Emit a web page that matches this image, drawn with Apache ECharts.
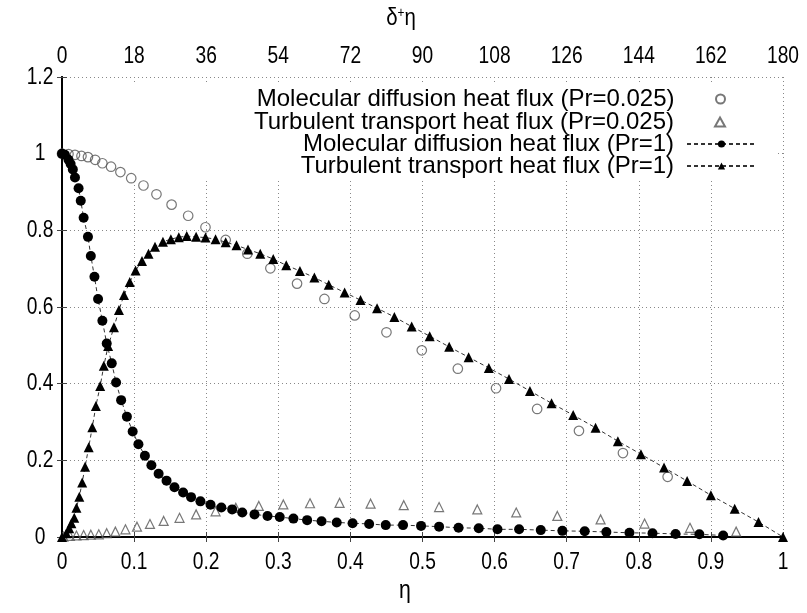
<!DOCTYPE html>
<html><head><meta charset="utf-8">
<script src="https://cdn.jsdelivr.net/npm/echarts@6/dist/echarts.min.js"></script>
<style>html,body{margin:0;padding:0;background:#fff}#c{width:807px;height:613px}</style>
</head><body><div id="c"></div>
<script>
// Molecular diffusion heat flux (Pr=0.025) - open circles
const molLowEta = [0, 0.009, 0.018, 0.027, 0.036, 0.046, 0.056, 0.068, 0.081, 0.096, 0.113, 0.131, 0.152, 0.175, 0.199, 0.227, 0.257, 0.289, 0.326, 0.364, 0.406, 0.450, 0.499, 0.549, 0.602, 0.659, 0.717, 0.778, 0.840];
const molLowVal = [1.0, 0.999, 0.997, 0.994, 0.991, 0.984, 0.975, 0.966, 0.952, 0.936, 0.917, 0.894, 0.867, 0.838, 0.808, 0.775, 0.739, 0.701, 0.661, 0.621, 0.578, 0.534, 0.487, 0.439, 0.388, 0.334, 0.277, 0.219, 0.157];
// Turbulent transport heat flux (Pr=0.025) - open triangles
const turbLowEta = [0.002, 0.011, 0.020, 0.030, 0.040, 0.051, 0.062, 0.074, 0.088, 0.104, 0.122, 0.141, 0.163, 0.186, 0.213, 0.241, 0.273, 0.307, 0.344, 0.385, 0.428, 0.474, 0.523, 0.576, 0.630, 0.687, 0.747, 0.808, 0.871, 0.935];
const turbLowVal = [0.001, 0.003, 0.004, 0.005, 0.006, 0.007, 0.010, 0.014, 0.020, 0.027, 0.034, 0.042, 0.050, 0.059, 0.067, 0.076, 0.081, 0.085, 0.088, 0.089, 0.087, 0.083, 0.078, 0.072, 0.064, 0.055, 0.046, 0.035, 0.024, 0.014];
// Molecular diffusion heat flux (Pr=1) - filled circles
const molHighEta = [0, 0.004, 0.009, 0.012, 0.015, 0.018, 0.023, 0.026, 0.030, 0.036, 0.040, 0.045, 0.050, 0.056, 0.062, 0.069, 0.075, 0.082, 0.090, 0.098, 0.106, 0.115, 0.124, 0.134, 0.145, 0.156, 0.168, 0.179, 0.192, 0.206, 0.221, 0.236, 0.250, 0.267, 0.285, 0.302, 0.321, 0.340, 0.360, 0.381, 0.403, 0.426, 0.449, 0.473, 0.498, 0.523, 0.550, 0.578, 0.604, 0.634, 0.664, 0.694, 0.725, 0.755, 0.787, 0.819, 0.851, 0.884, 0.917];
const molHighVal = [1.0, 0.997, 0.984, 0.973, 0.959, 0.938, 0.910, 0.877, 0.833, 0.783, 0.733, 0.679, 0.621, 0.564, 0.505, 0.453, 0.403, 0.357, 0.314, 0.275, 0.242, 0.212, 0.187, 0.165, 0.147, 0.130, 0.116, 0.104, 0.093, 0.084, 0.077, 0.072, 0.064, 0.059, 0.055, 0.052, 0.048, 0.044, 0.041, 0.038, 0.036, 0.034, 0.031, 0.031, 0.029, 0.027, 0.024, 0.023, 0.020, 0.020, 0.018, 0.016, 0.015, 0.013, 0.011, 0.010, 0.008, 0.007, 0.004];
// Turbulent transport heat flux (Pr=1) - filled triangles
const turbHighEta = [0, 0.006, 0.010, 0.013, 0.017, 0.020, 0.024, 0.028, 0.032, 0.037, 0.042, 0.047, 0.053, 0.058, 0.064, 0.072, 0.079, 0.086, 0.094, 0.102, 0.111, 0.120, 0.129, 0.140, 0.151, 0.162, 0.173, 0.186, 0.199, 0.213, 0.227, 0.242, 0.258, 0.275, 0.293, 0.311, 0.330, 0.350, 0.370, 0.392, 0.414, 0.437, 0.461, 0.485, 0.510, 0.537, 0.564, 0.592, 0.620, 0.649, 0.679, 0.709, 0.740, 0.771, 0.803, 0.835, 0.867, 0.900, 0.933, 0.966, 1.0];
const turbHighVal = [0, 0.010, 0.023, 0.036, 0.050, 0.076, 0.105, 0.142, 0.183, 0.234, 0.286, 0.342, 0.394, 0.447, 0.498, 0.547, 0.592, 0.631, 0.665, 0.695, 0.720, 0.739, 0.757, 0.770, 0.777, 0.782, 0.785, 0.783, 0.781, 0.777, 0.769, 0.761, 0.750, 0.739, 0.725, 0.709, 0.694, 0.677, 0.658, 0.638, 0.618, 0.597, 0.574, 0.549, 0.524, 0.496, 0.469, 0.441, 0.412, 0.381, 0.349, 0.318, 0.285, 0.250, 0.216, 0.181, 0.146, 0.109, 0.074, 0.039, 0];

// tick labels
const yTickVals = [0, 0.2, 0.4, 0.6, 0.8, 1, 1.2];
const yTickLabels = ['0','0.2','0.4','0.6','0.8','1','1.2'];
const xTickVals = [0, 0.1, 0.2, 0.3, 0.4, 0.5, 0.6, 0.7, 0.8, 0.9, 1];
const xTickLabels = ['0','0.1','0.2','0.3','0.4','0.5','0.6','0.7','0.8','0.9','1'];
const topTickVals = [0, 18, 36, 54, 72, 90, 108, 126, 144, 162, 180];
const topTickLabels = ['0','18','36','54','72','90','108','126','144','162','180'];
const names = ['Molecular diffusion heat flux (Pr=0.025)','Turbulent transport heat flux (Pr=0.025)','Molecular diffusion heat flux (Pr=1)','Turbulent transport heat flux (Pr=1)'];

const zip = (a,b) => a.map((x,i)=>[x,b[i]]);
const LFONT = '"Liberation Sans",Arial,Helvetica,sans-serif';
const chart = echarts.init(document.getElementById('c'), null, {renderer:'canvas'});
const grid = {left:62, right:24, top:77, bottom:76};
const lineAx = {show:true, lineStyle:{color:'#000', width:2}};
const tickIn = {show:true, inside:true, length:5, lineStyle:{color:'#444', width:1}};
const legendItem = (i, top, isLine) => ({
  data:[names[i]], orient:'horizontal', top:top, right: isLine ? 50 : 81, align:'right', padding:0,
  itemWidth: isLine ? 69 : 10, itemHeight: 9, itemGap:0,
  textStyle:{fontFamily:LFONT, fontSize:24, lineHeight:24, color:'#000', padding:[0, isLine ? 8 : 36, 0, 0]}
});
const splitDot = {show:true, lineStyle:{color:'#888', type:[1,3], width:1}};
chart.setOption({
  animation:false,
  backgroundColor:'#fff',
  grid:grid,
  legend:[legendItem(0,87,false), legendItem(1,110,false), legendItem(2,132,true), legendItem(3,154,true)],
  xAxis:[
    {type:'value', min:0, max:1, interval:0.1, position:'bottom',
     axisLine:lineAx, axisTick:tickIn, axisLabel:{show:false}, splitLine:splitDot},
    {type:'value', min:0, max:180, interval:18, position:'top',
     axisLine:lineAx, axisTick:tickIn, axisLabel:{show:false}, splitLine:{show:false}}
  ],
  yAxis:[
    {type:'value', min:0, max:1.2, interval:0.2, position:'left',
     axisLine:lineAx, axisTick:tickIn, axisLabel:{show:false}, splitLine:splitDot},
    {type:'value', min:0, max:1.2, interval:0.2, position:'right',
     axisLine:lineAx, axisTick:tickIn, axisLabel:{show:false}, splitLine:{show:false}}
  ],
  series:[
    {name:names[0], type:'scatter', data:zip(molLowEta, molLowVal), symbol:'circle', symbolSize:9.5,
     itemStyle:{color:'rgba(255,255,255,0)', borderColor:'#555', borderWidth:1.2}, z:3},
    {name:names[1], type:'scatter', data:zip(turbLowEta, turbLowVal), symbol:'triangle', symbolSize:9,
     itemStyle:{color:'rgba(255,255,255,0)', borderColor:'#555', borderWidth:1.2}, z:3},
    {name:names[2], type:'line', data:zip(molHighEta, molHighVal), symbol:'circle', symbolSize:10, showSymbol:true,
     lineStyle:{color:'#333', width:1, type:[4,3]}, itemStyle:{color:'#000'}, z:4},
    {name:names[3], type:'line', data:zip(turbHighEta, turbHighVal), symbol:'triangle', symbolSize:10, showSymbol:true,
     lineStyle:{color:'#333', width:1, type:[4,3]}, itemStyle:{color:'#000'}, z:4}
  ]
});

// Condensed tick labels and axis titles placed through the chart's own scales
const tickFont = {fontFamily:LFONT, fontSize:24, fill:'#000', align:'center', verticalAlign:'middle', textAlign:'center', textVerticalAlign:'middle'};
const els = [];
const yLabelX = 40;
yTickVals.forEach((v,i)=>{
  const py = chart.convertToPixel({yAxisIndex:0}, v);
  els.push({type:'text', x:yLabelX, y:py, scaleX:0.8, z:10, style:Object.assign({text:yTickLabels[i]}, tickFont)});
});
xTickVals.forEach((v,i)=>{
  const px = chart.convertToPixel({xAxisIndex:0}, v);
  els.push({type:'text', x:px, y:562, scaleX:0.8, z:10, style:Object.assign({text:xTickLabels[i]}, tickFont)});
});
topTickVals.forEach((v,i)=>{
  const px = chart.convertToPixel({xAxisIndex:1}, v);
  els.push({type:'text', x:px, y:56, scaleX:0.8, z:10, style:Object.assign({text:topTickLabels[i]}, tickFont)});
});
els.push({type:'text', x:405, y:591, z:10, scaleX:0.85,
  style:{text:'η', fontFamily:LFONT, fontSize:25, fill:'#000', align:'center', verticalAlign:'middle', textAlign:'center', textVerticalAlign:'middle'}});
els.push({type:'text', x:401, y:18, z:10, scaleX:0.85,
  style:{text:'δ{s|+}η', fontFamily:LFONT, fontSize:24, fill:'#000', align:'center', verticalAlign:'middle', textAlign:'center', textVerticalAlign:'middle',
         rich:{s:{fontFamily:LFONT, fontSize:14, verticalAlign:'top', padding:[0,0,10,0]}}}});
// opaque key box hiding grid lines behind the key area
const yTop = chart.convertToPixel({yAxisIndex:0}, 1.2);
const xL = chart.convertToPixel({xAxisIndex:0}, 0), xR = chart.convertToPixel({xAxisIndex:0}, 1);
els.push({type:'rect', z:1, silent:true, shape:{x:xL+6, y:yTop+6, width:(xR-xL)-12, height:178-(yTop+6)}, style:{fill:'#fff'}});
chart.setOption({graphic:{elements:els}});
</script></body></html>
